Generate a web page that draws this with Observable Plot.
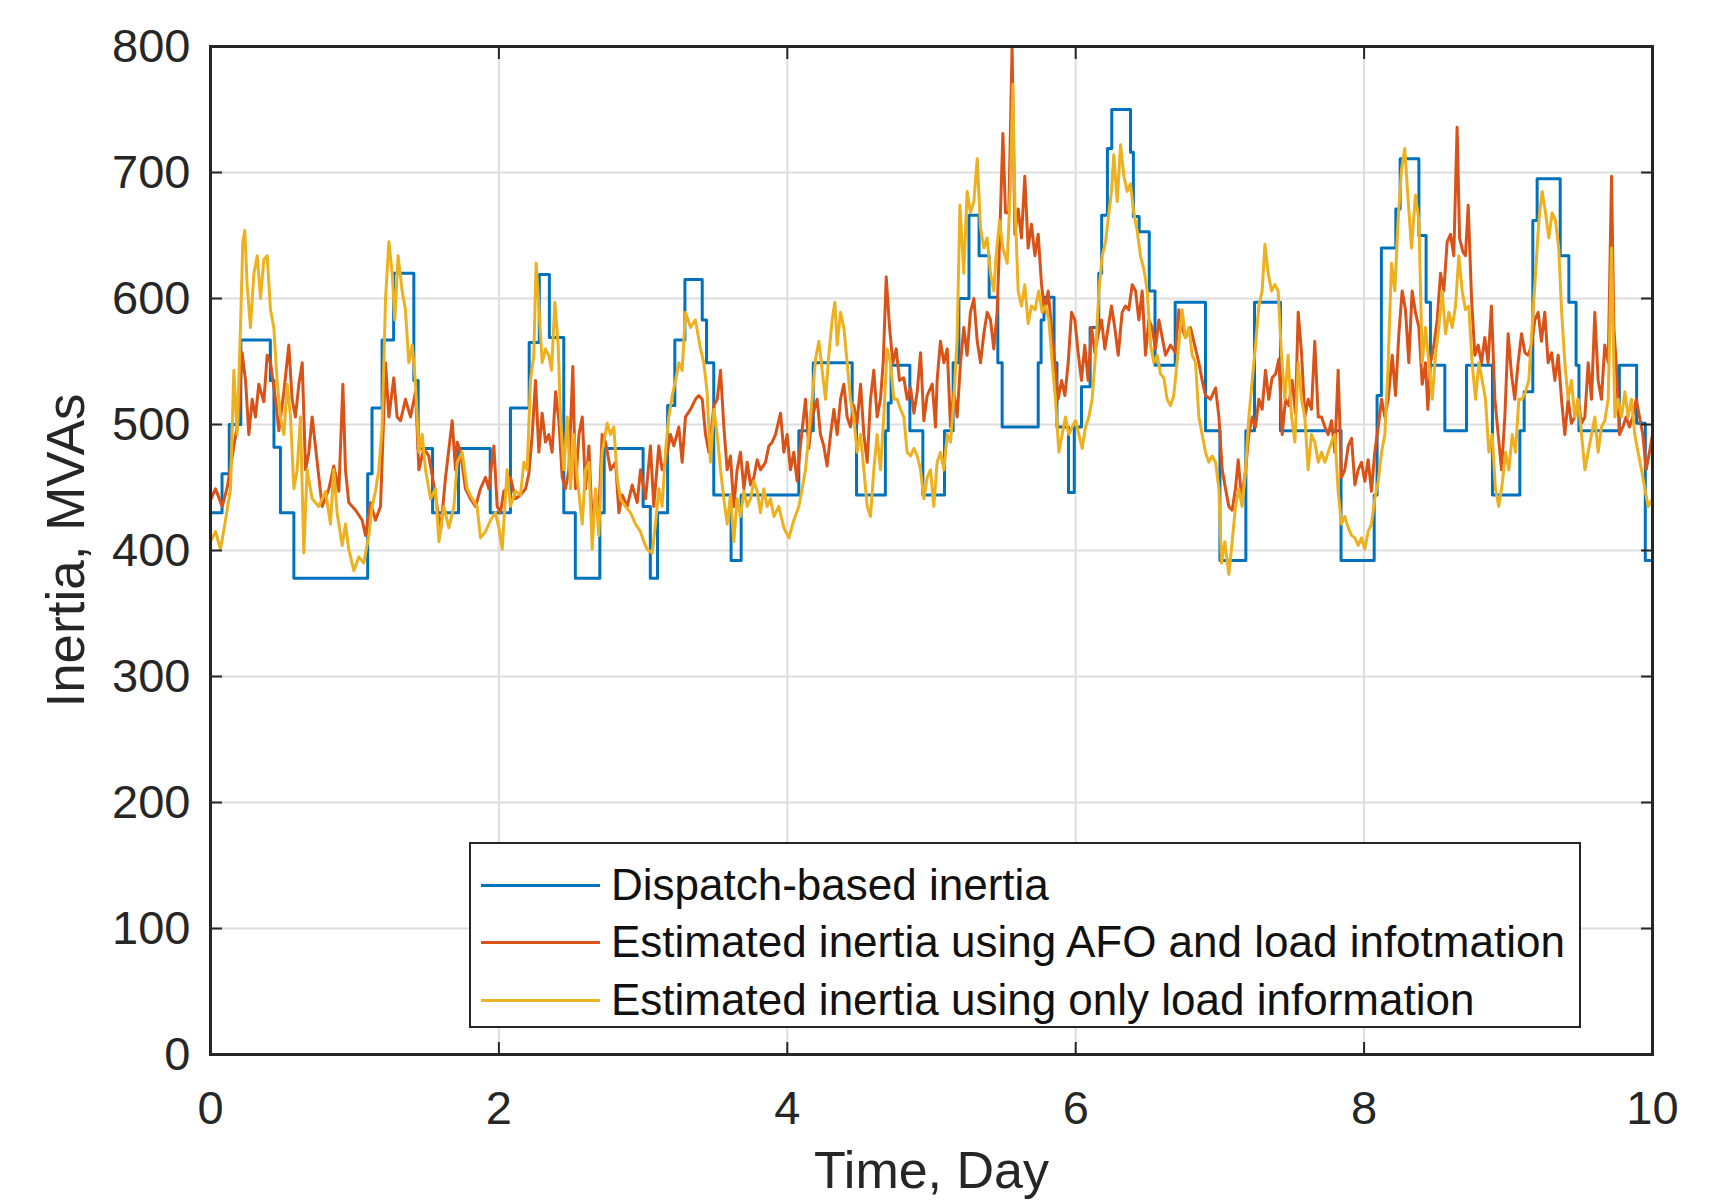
<!DOCTYPE html>
<html><head><meta charset="utf-8">
<script src="https://cdn.jsdelivr.net/npm/d3@7"></script>
<script src="https://cdn.jsdelivr.net/npm/@observablehq/plot@0.6"></script>
<style>
body{margin:0;background:#fff;}
#wrap{position:relative;width:1730px;height:1204px;overflow:hidden;background:#fff;}
#legend{position:absolute;left:469px;top:842px;width:1112px;height:186px;box-sizing:border-box;border:2.5px solid #262626;background:#fff;font-family:"Liberation Sans",Arial,sans-serif;font-size:44px;color:#111;}
#legend .row{position:absolute;left:0;height:56px;display:flex;align-items:center;white-space:nowrap;}
#legend .sw{width:119px;height:3px;margin-left:10px;margin-right:11px;}
</style></head>
<body><div id="wrap"></div>
<script>
const seriesNames = ["Dispatch-based inertia", "Estimated inertia using AFO and load infotmation", "Estimated inertia using only load information"];
const seriesColors = ["#0072BD", "#D95319", "#EDB120"];
const xTicks = [0, 2, 4, 6, 8, 10];
const yTicks = [0, 100, 200, 300, 400, 500, 600, 700, 800];
const xLabel = "Time, Day";
const yLabel = "Inertia, MVAs";

// [day, MVAs] — step function
const dispatch = [[0,430],[0.08,461],[0.13,500],[0.21,567],[0.415,535],[0.44,482],[0.485,430],[0.578,378],[1.09,461],[1.12,513],[1.19,567],[1.27,620],[1.41,535],[1.44,481],[1.54,430],[1.72,481],[1.94,430],[2.08,513],[2.21,565],[2.28,619],[2.35,569],[2.45,430],[2.53,378],[2.70,430],[2.73,481],[3.00,435],[3.05,378],[3.10,430],[3.17,515],[3.22,567],[3.29,615],[3.41,583],[3.44,549],[3.49,444],[3.61,392],[3.68,444],[4.08,495],[4.18,549],[4.45,505],[4.48,444],[4.68,495],[4.70,517],[4.72,547],[4.85,495],[4.94,444],[5.09,495],[5.15,549],[5.19,600],[5.26,666],[5.33,634],[5.40,601],[5.46,549],[5.49,498],[5.74,549],[5.76,583],[5.78,601],[5.85,549],[5.87,498],[5.95,446],[5.99,498],[6.04,530],[6.10,577],[6.16,620],[6.18,666],[6.22,719],[6.25,750],[6.38,716],[6.40,665],[6.44,653],[6.51,606],[6.55,547],[6.69,597],[6.90,495],[7.00,392],[7.18,495],[7.24,597],[7.42,495],[7.84,392],[8.07,444],[8.09,523],[8.12,640],[8.22,671],[8.25,711],[8.38,650],[8.43,597],[8.46,547],[8.56,495],[8.71,547],[8.89,444],[9.08,495],[9.11,526],[9.17,662],[9.20,695],[9.36,634],[9.42,597],[9.47,547],[9.49,495],[9.77,547],[9.89,501],[9.95,392],[10,392]];

const afo = [[0,440],[0.035,449],[0.081,435],[0.116,450],[0.162,483],[0.196,506],[0.219,557],[0.243,535],[0.266,492],[0.289,520],[0.312,506],[0.335,532],[0.370,518],[0.393,555],[0.416,549],[0.451,520],[0.474,495],[0.509,526],[0.543,563],[0.566,520],[0.589,506],[0.613,532],[0.636,549],[0.659,464],[0.682,478],[0.705,506],[0.740,470],[0.774,435],[0.821,449],[0.855,467],[0.890,447],[0.918,532],[0.936,464],[0.959,438],[1.006,432],[1.052,424],[1.075,412],[1.110,438],[1.144,424],[1.179,435],[1.214,549],[1.237,506],[1.271,537],[1.294,506],[1.318,503],[1.352,520],[1.387,506],[1.422,526],[1.445,464],[1.479,481],[1.514,475],[1.560,444],[1.595,415],[1.630,458],[1.676,503],[1.699,464],
[1.711,486],[1.734,478],[1.768,449],[1.803,441],[1.838,435],[1.872,449],[1.907,458],[1.930,449],[1.965,483],[1.988,435],[2.011,430],[2.034,447],[2.057,449],[2.080,458],[2.115,441],[2.150,444],[2.185,449],[2.208,461],[2.231,492],[2.254,535],[2.277,478],[2.300,509],[2.323,486],[2.346,492],[2.369,478],[2.393,526],[2.416,503],[2.439,458],[2.462,449],[2.485,464],[2.513,546],[2.531,449],[2.555,492],[2.578,506],[2.601,449],[2.624,483],[2.647,421],[2.670,444],[2.693,430],[2.716,492],[2.739,486],[2.774,464],[2.809,470],[2.832,430],[2.855,444],[2.890,435],[2.924,452],[2.959,438],[2.982,464],[3.017,441],[3.051,483],[3.074,435],[3.109,483],[3.132,464],[3.155,470],[3.190,492],[3.213,483],[3.248,498],[3.271,470],[3.294,506],[3.329,512],[3.363,520],
[3.386,523],[3.410,520],[3.433,492],[3.456,478],[3.491,515],[3.514,520],[3.537,543],[3.560,498],[3.583,464],[3.606,475],[3.629,435],[3.652,464],[3.675,478],[3.699,449],[3.722,470],[3.745,452],[3.768,458],[3.791,472],[3.814,464],[3.849,470],[3.872,483],[3.895,486],[3.918,492],[3.953,509],[3.976,478],[3.999,492],[4.022,464],[4.045,478],[4.068,455],[4.091,483],[4.126,520],[4.149,481],[4.172,506],[4.207,520],[4.230,492],[4.253,483],[4.276,467],[4.300,492],[4.323,512],[4.346,492],[4.369,520],[4.392,532],[4.415,506],[4.438,498],[4.461,515],[4.484,501],[4.508,532],[4.531,492],[4.554,470],[4.577,520],[4.600,543],[4.623,506],[4.646,520],[4.665,549],[4.686,617],[4.709,577],[4.732,549],[4.755,560],[4.778,535],[4.808,537],[4.831,520],[4.855,529],[4.878,509],[4.901,526],[4.924,557],[4.947,503],[4.970,523],[5.005,532],[5.028,498],
[5.039,535],[5.062,566],[5.086,549],[5.109,560],[5.132,498],[5.155,526],[5.178,506],[5.201,549],[5.224,577],[5.247,555],[5.270,589],[5.294,600],[5.317,566],[5.340,549],[5.363,572],[5.386,589],[5.409,583],[5.432,560],[5.455,589],[5.472,645],[5.495,731],[5.513,668],[5.536,668],[5.559,800],[5.578,651],[5.601,671],[5.624,648],[5.647,697],[5.670,640],[5.693,659],[5.717,634],[5.740,651],[5.763,611],[5.786,589],[5.809,606],[5.832,577],[5.855,549],[5.878,520],[5.902,535],[5.925,523],[5.948,549],[5.971,589],[5.994,583],[6.017,557],[6.040,535],[6.063,563],[6.086,535],[6.110,577],[6.133,557],[6.156,572],[6.179,583],[6.202,560],[6.225,577],[6.248,594],[6.271,577],[6.295,555],[6.322,589],[6.345,594],[6.368,591],[6.392,611],[6.415,606],[6.438,583],[6.461,606],[6.484,555],[6.507,583],[6.530,577],[6.553,560],[6.577,583],[6.600,569],[6.623,555],[6.657,563],[6.692,557],
[6.715,591],[6.738,577],[6.761,569],[6.796,577],[6.831,560],[6.854,549],[6.877,535],[6.900,523],[6.935,520],[6.970,529],[6.993,506],[7.016,464],[7.039,449],[7.062,435],[7.085,432],[7.108,449],[7.127,472],[7.150,441],[7.178,464],[7.201,492],[7.224,506],[7.247,498],[7.270,520],[7.293,512],[7.316,543],[7.339,520],[7.362,537],[7.386,540],[7.409,552],[7.432,492],[7.455,520],[7.478,515],[7.501,535],[7.524,509],[7.543,589],[7.566,557],[7.589,506],[7.612,520],[7.635,512],[7.658,566],[7.682,506],[7.705,506],[7.728,498],[7.751,492],[7.774,503],[7.797,478],[7.820,543],[7.843,458],[7.866,464],[7.890,483],[7.913,489],[7.936,452],[7.959,464],[7.982,470],[8.005,455],[8.028,472],[8.051,447],[8.074,478],[8.098,498],[8.121,520],[8.144,506],[8.167,520],[8.195,555],[8.218,523],[8.241,572],[8.264,606],[8.287,591],[8.310,549],[8.333,606],[8.356,589],
[8.380,577],[8.403,532],[8.426,549],[8.442,512],[8.461,549],[8.484,563],[8.507,583],[8.530,620],[8.553,606],[8.576,645],[8.599,651],[8.622,634],[8.645,736],[8.662,648],[8.685,637],[8.703,634],[8.722,674],[8.745,600],[8.768,555],[8.791,563],[8.814,549],[8.837,569],[8.860,549],[8.883,594],[8.907,520],[8.930,492],[8.953,464],[8.976,506],[8.999,572],[9.022,540],[9.045,520],[9.068,549],[9.092,572],[9.115,557],[9.138,555],[9.161,563],[9.184,583],[9.207,589],[9.230,566],[9.253,589],[9.276,549],[9.300,557],[9.323,535],[9.346,555],[9.369,520],[9.392,492],[9.415,520],[9.438,501],[9.461,506],[9.484,520],[9.508,501],[9.531,506],[9.554,549],[9.577,520],[9.600,589],[9.623,535],[9.646,520],[9.669,563],[9.693,549],[9.716,697],[9.732,577],[9.748,549],[9.771,492],[9.794,498],[9.817,506],[9.840,498],[9.863,506],[9.887,520],[9.910,506],[9.933,492],[9.956,464],[9.979,478],[10,492]];

const loadOnly = [[0,407],[0.035,415],[0.069,401],[0.104,424],[0.139,449],[0.162,543],[0.185,492],[0.208,577],[0.224,645],[0.238,654],[0.254,611],[0.277,577],[0.301,620],[0.324,634],[0.347,600],[0.370,631],[0.393,634],[0.416,591],[0.439,577],[0.462,535],[0.485,506],[0.509,492],[0.532,532],[0.555,506],[0.578,449],[0.601,464],[0.624,506],[0.647,398],[0.670,464],[0.705,441],[0.751,435],[0.798,447],[0.832,421],[0.855,464],[0.878,430],[0.913,404],[0.936,421],[0.959,401],[0.994,384],[1.029,395],[1.063,390],[1.098,412],[1.121,435],[1.144,447],[1.167,464],[1.190,498],[1.214,600],[1.237,645],[1.260,620],[1.278,583],[1.301,634],[1.329,606],[1.352,591],[1.375,549],[1.399,563],[1.422,532],[1.445,478],[1.468,492],[1.491,464],[1.526,441],[1.560,449],[1.584,407],[1.618,435],[1.653,418],[1.688,435],
[1.711,470],[1.745,478],[1.780,449],[1.815,441],[1.849,435],[1.872,410],[1.907,415],[1.942,424],[1.976,430],[2.000,418],[2.023,401],[2.057,464],[2.080,435],[2.115,447],[2.150,444],[2.173,470],[2.196,464],[2.219,535],[2.242,555],[2.258,628],[2.277,594],[2.300,549],[2.323,560],[2.346,555],[2.365,543],[2.388,597],[2.411,563],[2.427,506],[2.450,464],[2.474,506],[2.497,449],[2.520,492],[2.543,458],[2.578,421],[2.601,464],[2.624,470],[2.647,401],[2.670,449],[2.693,412],[2.716,478],[2.751,501],[2.774,492],[2.797,498],[2.820,458],[2.843,441],[2.878,435],[2.913,430],[2.947,421],[2.982,415],[3.005,407],[3.028,401],[3.063,398],[3.086,421],[3.109,449],[3.132,435],[3.155,478],[3.178,506],[3.202,523],[3.225,535],[3.248,549],[3.271,543],[3.294,589],[3.329,577],[3.363,583],
[3.398,560],[3.421,549],[3.444,526],[3.467,470],[3.491,512],[3.514,492],[3.537,464],[3.560,441],[3.583,421],[3.606,444],[3.629,407],[3.652,441],[3.675,427],[3.699,447],[3.722,435],[3.745,441],[3.768,455],[3.791,447],[3.814,430],[3.837,449],[3.860,435],[3.883,441],[3.907,427],[3.941,435],[3.976,418],[4.011,410],[4.045,424],[4.080,435],[4.103,449],[4.126,464],[4.149,492],[4.172,520],[4.196,552],[4.219,566],[4.242,543],[4.265,520],[4.288,555],[4.311,583],[4.330,597],[4.346,563],[4.369,589],[4.392,577],[4.415,549],[4.438,520],[4.461,506],[4.484,478],[4.508,492],[4.531,464],[4.554,435],[4.577,427],[4.600,464],[4.623,492],[4.646,464],[4.669,506],[4.692,560],[4.716,549],[4.739,520],[4.762,520],[4.785,512],[4.808,506],[4.831,478],[4.855,475],[4.878,481],[4.901,475],[4.924,464],[4.947,441],[4.970,458],[4.993,464],[5.016,435],
[5.039,470],[5.062,478],[5.086,464],[5.109,492],[5.132,486],[5.155,520],[5.178,569],[5.197,674],[5.224,620],[5.247,685],[5.270,668],[5.294,677],[5.317,711],[5.340,656],[5.363,640],[5.386,648],[5.409,620],[5.432,606],[5.448,634],[5.472,662],[5.495,640],[5.525,628],[5.548,691],[5.564,770],[5.578,677],[5.601,606],[5.624,594],[5.647,611],[5.670,580],[5.693,594],[5.717,591],[5.744,606],[5.767,589],[5.791,594],[5.814,583],[5.837,549],[5.860,520],[5.883,478],[5.906,492],[5.929,506],[5.952,492],[5.976,498],[5.999,503],[6.022,492],[6.045,481],[6.068,498],[6.091,506],[6.114,520],[6.137,555],[6.161,606],[6.184,634],[6.207,645],[6.230,668],[6.248,685],[6.264,714],[6.288,677],[6.311,722],[6.334,697],[6.357,685],[6.380,691],[6.403,668],[6.426,654],[6.449,634],[6.473,623],[6.496,606],[6.519,563],[6.542,549],[6.565,555],[6.588,540],[6.611,537],[6.634,520],[6.657,515],[6.680,523],
[6.715,563],[6.738,591],[6.761,569],[6.785,577],[6.808,555],[6.831,549],[6.854,506],[6.877,492],[6.900,478],[6.923,470],[6.946,475],[6.970,470],[6.993,449],[7.011,390],[7.034,407],[7.062,381],[7.085,407],[7.108,435],[7.131,449],[7.154,435],[7.178,464],[7.201,506],[7.224,535],[7.247,563],[7.270,594],[7.293,606],[7.312,643],[7.335,620],[7.358,606],[7.381,611],[7.404,606],[7.427,555],[7.450,520],[7.473,555],[7.497,506],[7.520,486],[7.543,549],[7.566,520],[7.589,506],[7.612,464],[7.635,492],[7.658,486],[7.682,470],[7.705,478],[7.728,470],[7.751,478],[7.774,486],[7.797,492],[7.820,447],[7.843,421],[7.866,427],[7.890,418],[7.913,412],[7.936,410],[7.959,404],[7.982,410],[8.005,401],[8.028,415],[8.051,421],[8.074,441],[8.098,455],[8.121,478],[8.144,492],[8.167,549],[8.190,628],[8.213,606],[8.236,662],[8.259,702],[8.282,719],[8.306,677],[8.329,640],[8.356,682],
[8.380,662],[8.403,549],[8.426,577],[8.449,549],[8.472,520],[8.495,555],[8.518,577],[8.541,606],[8.565,572],[8.588,589],[8.611,577],[8.634,594],[8.657,634],[8.680,606],[8.703,591],[8.726,594],[8.749,549],[8.773,520],[8.796,549],[8.819,535],[8.842,520],[8.865,478],[8.888,492],[8.911,449],[8.934,435],[8.957,452],[8.981,478],[9.004,464],[9.027,492],[9.050,478],[9.073,520],[9.096,520],[9.119,526],[9.142,535],[9.165,577],[9.189,620],[9.212,662],[9.235,685],[9.258,668],[9.281,648],[9.304,668],[9.327,662],[9.350,640],[9.369,591],[9.392,549],[9.415,520],[9.438,535],[9.461,506],[9.484,520],[9.508,492],[9.531,464],[9.554,478],[9.577,492],[9.600,506],[9.623,478],[9.646,498],[9.669,503],[9.693,520],[9.716,640],[9.739,506],[9.762,520],[9.785,506],[9.808,526],[9.831,506],[9.854,520],[9.877,492],[9.900,478],[9.924,464],[9.947,449],[9.970,435],[10,441]];

const toRows = (arr, i) => arr.map(([day, value]) => ({day, value, series: seriesNames[i]}));
const font = '"Liberation Sans", Arial, sans-serif';
const ink = "#262626";

const chart = Plot.plot({
  width: 1730,
  height: 1204,
  marginLeft: 210,
  marginRight: 78,
  marginTop: 46,
  marginBottom: 150,
  style: {fontFamily: font, fontSize: "47px", color: ink, background: "#fff"},
  x: {domain: [0, 10]},
  y: {domain: [0, 800]},
  marks: [
    Plot.gridX({ticks: xTicks, stroke: "#dedede", strokeOpacity: 1, strokeWidth: 2}),
    Plot.gridY({ticks: yTicks, stroke: "#dedede", strokeOpacity: 1, strokeWidth: 2}),
    Plot.line(toRows(dispatch, 0), {x: "day", y: "value", curve: "step-after", stroke: seriesColors[0], strokeWidth: 3}),
    Plot.line(toRows(afo, 1), {x: "day", y: "value", stroke: seriesColors[1], strokeWidth: 3, strokeLinejoin: "round"}),
    Plot.line(toRows(loadOnly, 2), {x: "day", y: "value", stroke: seriesColors[2], strokeWidth: 3, strokeLinejoin: "round"}),
    Plot.frame({stroke: ink, strokeWidth: 3}),
    // inward ticks
    Plot.axisY({ticks: yTicks, anchor: "left", tickSize: 12, dx: 12, fill: "none", label: null, stroke: ink, strokeWidth: 2}),
    Plot.axisY({ticks: yTicks, anchor: "right", tickSize: 12, dx: -12, fill: "none", label: null, stroke: ink, strokeWidth: 2}),
    Plot.axisX({ticks: xTicks, anchor: "bottom", tickSize: 12, dy: -12, fill: "none", label: null, stroke: ink, strokeWidth: 2}),
    Plot.axisX({ticks: xTicks, anchor: "top", tickSize: 12, dy: 12, fill: "none", label: null, stroke: ink, strokeWidth: 2}),
    // tick labels
    Plot.axisY({ticks: yTicks, anchor: "left", tickSize: 0, tickPadding: 20, label: null, fill: ink, fontSize: 47}),
    Plot.axisX({ticks: xTicks, anchor: "bottom", tickSize: 0, tickPadding: 36, label: null, fill: ink, fontSize: 47}),
    // axis titles
    Plot.text([xLabel], {frameAnchor: "bottom", dy: 97, lineAnchor: "top", fontSize: 52, fill: ink}),
    Plot.text([yLabel], {frameAnchor: "left", dx: -164, rotate: -90, lineAnchor: "top", textAnchor: "middle", fontSize: 53, fill: ink})
  ]
});

const wrap = document.getElementById("wrap");
wrap.appendChild(chart);

const legend = document.createElement("div");
legend.id = "legend";
const rowTops = [13, 70, 128];
seriesNames.forEach((name, i) => {
  const row = document.createElement("div");
  row.className = "row";
  row.style.top = rowTops[i] + "px";
  const sw = document.createElement("span");
  sw.className = "sw";
  sw.style.background = seriesColors[i];
  const label = document.createElement("span");
  label.textContent = name;
  row.appendChild(sw);
  row.appendChild(label);
  legend.appendChild(row);
});
wrap.appendChild(legend);
</script>
</body></html>
